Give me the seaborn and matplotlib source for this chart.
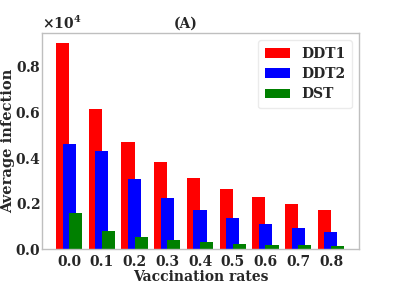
import matplotlib
matplotlib.use("Agg")
import matplotlib.pyplot as plt
import seaborn as sns
import pandas as pd

# Data ---------------------------------------------------------------------------------
rates = ["0.0", "0.1", "0.2", "0.3", "0.4", "0.5", "0.6", "0.7", "0.8"]
ddt1 = [9000, 6140, 4700, 3790, 3120, 2640, 2260, 1960, 1710]
ddt2 = [4610, 4290, 3060, 2230, 1720, 1360, 1090, 900, 740]
dst = [1590, 790, 510, 390, 290, 220, 170, 160, 130]

series = [("DDT1", ddt1, "red", -0.2), ("DDT2", ddt2, "blue", 0.0), ("DST", dst, "green", 0.2)]

# Style --------------------------------------------------------------------------------
sns.set_style("white")
plt.rcParams["font.family"] = ["DejaVu Serif"]
plt.rcParams["font.weight"] = "bold"
plt.rcParams["mathtext.fontset"] = "dejavuserif"
plt.rcParams["mathtext.default"] = "bf"

fig = plt.figure(figsize=(3.99, 3.0), dpi=100)
ax = fig.add_axes([0.105, 0.17, 0.795, 0.72])

for name, values, color, shift in series:
    df = pd.DataFrame({"x": [i + shift for i in range(len(rates))], "y": values})
    sns.barplot(
        data=df, x="x", y="y", native_scale=True, width=0.4, color=color,
        saturation=1, linewidth=0, label=name, ax=ax,
    )

# Axes ---------------------------------------------------------------------------------
ax.set_xticks(range(len(rates)))
ax.set_xticklabels(rates)
ax.set_xlim(-0.83, 8.86)
ax.set_ylim(0, 9450)
ax.set_yticks([0, 2000, 4000, 6000, 8000])
ax.ticklabel_format(style="sci", axis="y", scilimits=(4, 4), useMathText=True)
ax.tick_params(labelsize=10, length=0, pad=1)
ax.tick_params(axis="x", pad=4)
for lab in ax.get_xticklabels() + ax.get_yticklabels():
    lab.set_fontweight("bold")
ax.yaxis.get_offset_text().set_fontsize(10)
ax.yaxis.get_offset_text().set_fontweight("bold")

for sp in ax.spines.values():
    sp.set_color("#bfbfbf")
    sp.set_linewidth(1.0)

ax.set_xlabel("Vaccination rates", fontsize=10, fontweight="bold", labelpad=1)
ax.set_ylabel("Average infection", fontsize=10.5, fontweight="bold", labelpad=0)
ax.text(0.454, 1.01, "(A)", transform=ax.transAxes, ha="center", va="bottom",
        fontsize=10, fontweight="bold")

ax.legend(loc="upper right", prop={"weight": "bold", "size": 10}, frameon=True,
          handlelength=1.8, handleheight=0.7, borderpad=0.5, labelspacing=0.45,
          handletextpad=0.8, edgecolor="#e6e6e6")

plt.savefig("out.png", dpi=100)
